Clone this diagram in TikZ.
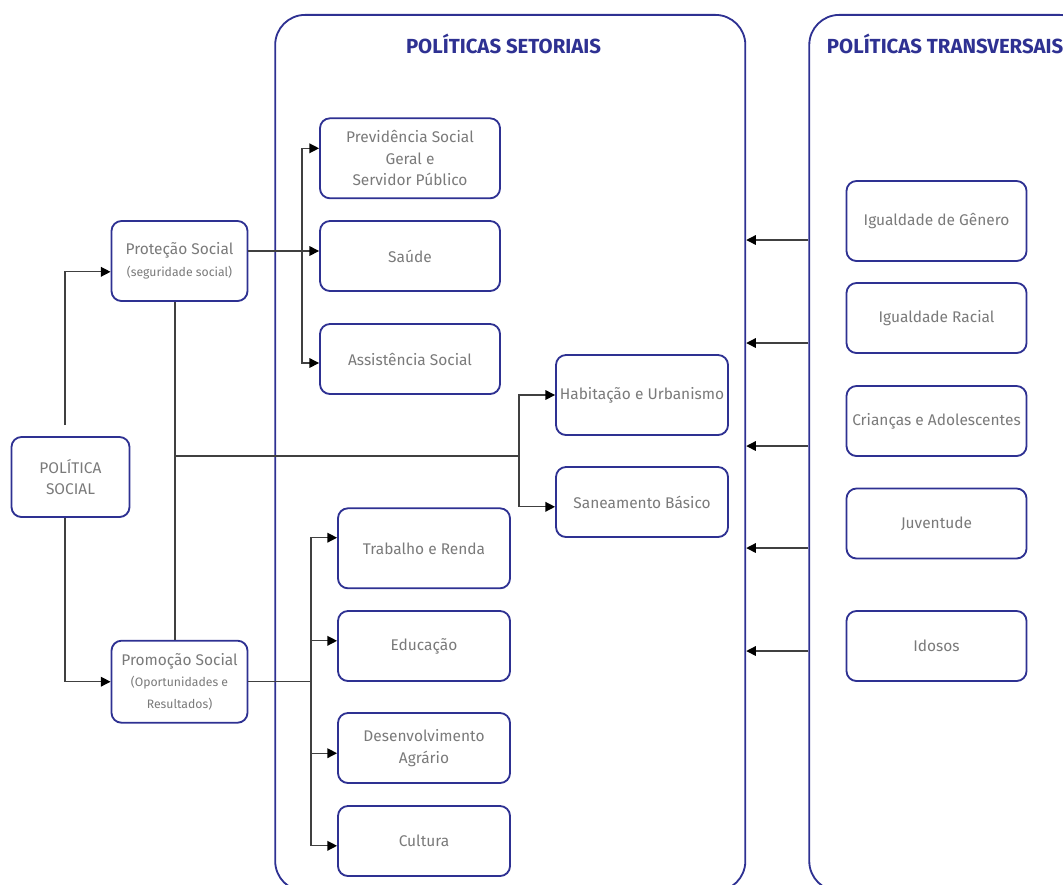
\documentclass[tikz,border=0pt]{standalone}
\usepackage{fontspec}
\setmainfont{Fira Sans}
\usetikzlibrary{arrows.meta,positioning,calc}
\definecolor{polblue}{HTML}{2E3192}
\definecolor{polgray}{HTML}{7A7A7A}
\definecolor{linegray}{HTML}{404040}
\newcommand{\polbody}{\fontsize{11}{15.3}\selectfont}
\newcommand{\polsmall}{\fontsize{8.7}{12.8}\selectfont}

\begin{document}
\begin{tikzpicture}[
    x=0.025cm, y=-0.025cm,
    every node/.style={font=\polbody},
    box/.style={draw=polblue, line width=1.3pt, rounded corners=0.25cm, fill=white, align=center, text=polgray, inner sep=2pt, minimum width=4.5cm, minimum height=1.75cm},
    tallbox/.style={box, minimum height=2cm},
    panel/.style={draw=polblue, line width=1.3pt, rounded corners=0.75cm, minimum width=11.75cm, minimum height=21.9cm},
    title/.style={font=\fontsize{14.5}{16}\selectfont\bfseries, text=polblue},
    link/.style={draw=linegray, line width=0.9pt},
    flow/.style={link, -{Triangle[length=2.4mm, width=2.4mm, color=black]}}
]
\useasboundingbox (0,0) rectangle (1063,884);
\clip (0,0) rectangle (1063,884);

% the two columns of policies
\node[panel] (setoriais) at (510.25,453) {};
\node[panel, minimum width=7cm] (transversais) at (949.3,453) {};
\node[title, anchor=base] (settitle) at (503.5,53) {POLÍTICAS SETORIAIS};
\node[title, anchor=base west] (trtitle) at (822,53) {POLÍTICAS TRANSVERSAIS};

% left side
\node[tallbox, minimum width=2.95cm] (polsoc) at (70.5,477) {POLÍTICA\\SOCIAL};
\node[tallbox, minimum width=3.4cm] (protecao) at (179.5,261) {Proteção Social\\{\polsmall (seguridade social)}};
\node[tallbox, minimum width=3.4cm, minimum height=2.05cm] (promocao) at (179.5,681.7) {Promoção Social\\{\polsmall (Oportunidades e}\\{\polsmall Resultados)}};

% setoriais
\node[tallbox] (previd) at (410,158.3) {Previdência Social\\Geral e\\Servidor Público};
\node[box] (saude) at (410,256) {Saúde};
\node[box] (assist) at (410,359) {Assistência Social};
\node[tallbox, minimum width=4.3cm] (habit) at (642,395) {Habitação e Urbanismo};
\node[box, minimum width=4.3cm] (saneam) at (642,502) {Saneamento Básico};
\node[tallbox, minimum width=4.3cm] (trab) at (424,548.3) {Trabalho e Renda};
\node[box, minimum width=4.3cm] (educ) at (424,646) {Educação};
\node[box, minimum width=4.3cm] (desenv) at (424,748) {Desenvolvimento\\Agrário};
\node[box, minimum width=4.3cm] (cultura) at (424,841) {Cultura};

% transversais
\node[tallbox] (genero) at (936.5,221) {Igualdade de Gênero};
\node[box] (racial) at (936.5,318) {Igualdade Racial};
\node[box] (criancas) at (936.5,421) {Crianças e Adolescentes};
\node[box] (juventude) at (936.5,523.5) {Juventude};
\node[box] (idosos) at (936.5,646) {Idosos};

% política social
\draw[flow] ([xshift=-0.14cm, yshift=0.275cm]polsoc.north) |- ([yshift=-0.27cm]protecao.west);
\draw[flow] ([xshift=-0.14cm]polsoc.south) |- (promocao.west);

% proteção social
\coordinate (protbus) at (302,251);
\coordinate (spine) at ([xshift=-0.11cm]protecao.south);
\draw[link] (spine) -- ([xshift=-0.11cm]promocao.north);
\draw[link] (protecao.east |- protbus) -- (protbus);
\draw[flow] (protbus) -- (saude.west |- protbus);
\draw[flow] (protbus) |- ([yshift=0.25cm]previd.west);
\draw[flow] (protbus) |- ([yshift=-0.1cm]assist.west);

% habitação e saneamento
\coordinate (habbus) at (519,456);
\draw[link] (spine |- habbus) -- (habbus);
\draw[flow] (habbus) |- (habit.west);
\draw[flow] (habbus) |- ([yshift=-0.12cm]saneam.west);

% promoção social
\coordinate (promobus) at (311,681.7);
\draw[link] (promocao.east) -- (promobus);
\draw[flow] (promobus) |- ([yshift=0.265cm]trab.west);
\draw[flow] (promobus) |- ([yshift=0.13cm]educ.west);
\draw[flow] (promobus) |- ([yshift=-0.13cm]desenv.west);
\draw[flow] (promobus) |- ([yshift=-0.12cm]cultura.west);

% transversais -> setoriais
\foreach \y in {240,343,446,548,651}
  \draw[flow] (transversais.west |- 0,\y) -- (setoriais.east |- 0,\y);
\end{tikzpicture}
\end{document}
